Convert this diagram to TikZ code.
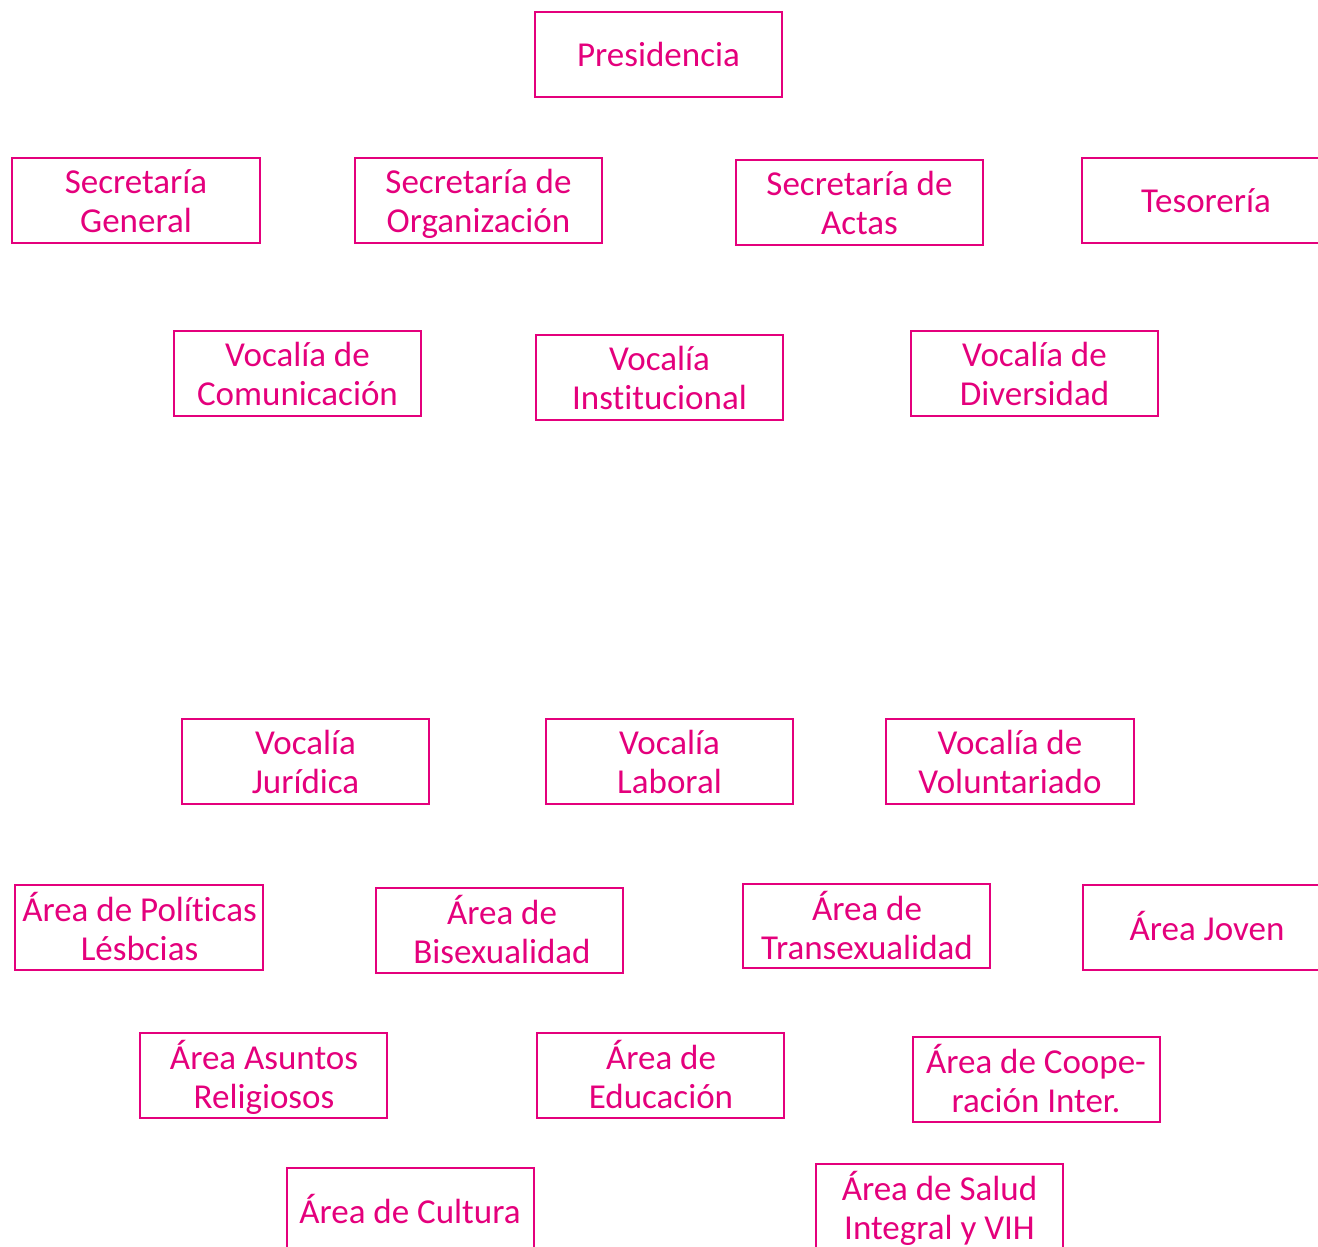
\documentclass[tikz,border=0pt]{standalone}
\usepackage{fontspec}
\setmainfont[Ligatures={NoCommon}]{Carlito}
\definecolor{mag}{HTML}{E4007C}
\newcommand\oneL[1]{\strut #1}
\newcommand\twoL[2]{\strut #1\\\strut #2}
\begin{document}
\begin{tikzpicture}[x=1pt,y=-1pt,
  orgbox/.style={draw=mag,line width=2.6pt},
  lbl/.style={text=mag,align=center,font=\fontsize{35}{39}\selectfont,inner sep=0pt}]
\useasboundingbox (0,0) rectangle (1318,1247);
\clip (0,0) rectangle (1318,1247);
\foreach \xa/\ya/\xb/\yb in {
 535/12/782/97, 12/158/260/243, 355/158/602/243, 736/160/983/245,
 1082/158/1330/243, 174/331/421/416, 536/335/783/420, 911/331/1158/416,
 182/719/429/804, 546/719/793/804, 886/719/1134/804,
 15/885/263/970, 376/888/623/973, 743/884/990/968, 1083/885/1330/970,
 140/1033/387/1118, 537/1033/784/1118, 913/1037/1160/1122,
 287/1168/534/1260, 816/1164/1063/1260}
{
  \draw[orgbox] (\xa,\ya) rectangle (\xb,\yb);
}
\node[lbl] (pres) at (658.5,59) {\oneL{Presidencia}};
\node[lbl] (secg) at (136,205) {\twoL{Secretaría}{General}};
\node[lbl] (seco) at (478.5,205) {\twoL{Secretaría de}{Organización}};
\node[lbl] (seca) at (859.5,207) {\twoL{Secretaría de}{Actas}};
\node[lbl] (teso) at (1206,205) {\oneL{Tesorería}};
\node[lbl] (vcom) at (297.5,378) {\twoL{Vocalía de}{Comunicación}};
\node[lbl] (vins) at (659.5,382) {\twoL{Vocalía}{Institucional}};
\node[lbl] (vdiv) at (1034.5,378) {\twoL{Vocalía de}{Diversidad}};
\node[lbl] (vjur) at (305.5,766) {\twoL{Vocalía}{Jurídica}};
\node[lbl] (vlab) at (669.5,766) {\twoL{Vocalía}{Laboral}};
\node[lbl] (vvol) at (1010,766) {\twoL{Vocalía de}{Voluntariado}};
\node[lbl] (alesb) at (139.5,932) {\twoL{Área de Políticas}{Lésbcias}};
\node[lbl] (abis) at (502,935) {\twoL{Área de}{Bisexualidad}};
\node[lbl] (atra) at (867,931) {\twoL{Área de}{Transexualidad}};
\node[lbl] (ajov) at (1207,932) {\oneL{Área Joven}};
\node[lbl] (arel) at (264,1080) {\twoL{Área Asuntos}{Religiosos}};
\node[lbl] (aedu) at (661,1080) {\twoL{Área de}{Educación}};
\node[lbl] (acoo) at (1036,1084) {\twoL{Área de Coope-}{ración Inter.}};
\node[lbl] (acul) at (410,1215) {\oneL{Área de Cultura}};
\node[lbl] (asal) at (939.5,1211) {\twoL{Área de Salud}{Integral y VIH}};
\end{tikzpicture}
\end{document}
